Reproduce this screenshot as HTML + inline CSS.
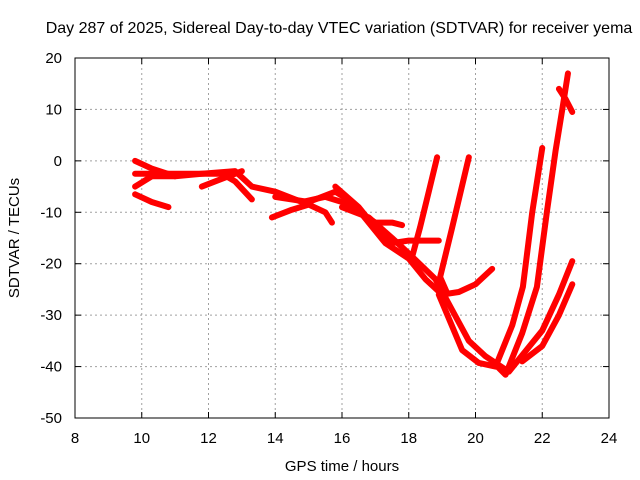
<!DOCTYPE html>
<html><head><meta charset="utf-8"><style>
body{margin:0;background:#fff;}
svg{display:block;font-family:"Liberation Sans",sans-serif;}
</style></head><body>
<svg id="chart" width="640" height="480">
<text x="339" y="33" font-size="16" text-anchor="middle">Day 287 of 2025, Sidereal Day-to-day VTEC variation (SDTVAR) for receiver yema</text>
<text x="342" y="471" font-size="15" text-anchor="middle">GPS time / hours</text>
<text transform="translate(19,238) rotate(-90)" font-size="15" text-anchor="middle">SDTVAR / TECUs</text>
<g id="grid"></g><g id="ticks"></g><g id="series"></g>
<rect x="75" y="58" width="534" height="360" fill="none" stroke="#000"/>
</svg>
<script>
const xTicks=[8,10,12,14,16,18,20,22,24];
const yTicks=[-50,-40,-30,-20,-10,0,10,20];
const s1=[[9.8,0],[10.3,-1.5],[11,-3],[11.8,-2.5],[12.8,-2],[13.3,-5],[14,-6],[14.8,-8],[15.5,-7],[16,-8],[16.5,-10],[17,-12],[17.5,-12],[17.8,-12.5]];
const s2=[[9.8,-2.5],[10.5,-2.5],[11.5,-2.5],[12.4,-2.5],[12.8,-4],[13.3,-7.5]];
const s3=[[9.8,-5],[10.3,-3],[11,-3]];
const s4=[[9.8,-6.5],[10.3,-8],[10.8,-9]];
const s5=[[11.8,-5],[12.4,-3.5],[13,-2]];
const s6=[[13.9,-11],[14.5,-9.5],[15,-8.5],[15.5,-10],[15.7,-12]];
const s7=[[14,-7],[15,-8],[15.8,-6],[16.3,-8],[16.8,-12],[17.3,-16],[18,-19],[18.5,-23],[19,-26],[19.5,-25.5],[20,-24],[20.5,-21]];
const s8=[[15.8,-5],[16.5,-9],[17,-13],[17.5,-16],[18,-15.5],[18.9,-15.5]];
const s9=[[16,-9],[16.8,-11],[17.5,-15],[18,-18],[18.8,-23],[19.3,-29],[19.8,-35],[20.3,-38],[21,-41],[21.5,-37],[22,-33],[22.5,-26],[22.9,-19.5]];
const s10=[[18.1,-18.7],[18.34,-12.9],[18.6,-6],[18.85,0.7]];
const s11=[[18.9,-26],[19.6,-36.8],[20.1,-39.3],[20.6,-40],[21.1,-32],[21.42,-24.5],[21.7,-10],[22,2.5]];
const s12=[[19.15,-25.7],[18.94,-22.6],[19.3,-13],[19.8,0.7]];
const s13=[[20.5,-39],[20.9,-41.6],[21.4,-33.5],[21.84,-24.5],[22.14,-9.9],[22.4,2],[22.6,10],[22.77,17]];
const s14=[[22.5,14],[22.7,12],[22.9,9.5]];
const s15=[[21.4,-39],[22,-36],[22.5,-30],[22.9,-24]];
const allSeries=[s1,s2,s3,s4,s5,s6,s7,s8,s9,s10,s11,s12,s13,s14,s15];
const X=h=>75+(h-8)*534/16, Y=v=>58+(20-v)*360/70;
const NS="http://www.w3.org/2000/svg";
const grid=document.getElementById('grid'),ticks=document.getElementById('ticks'),ser=document.getElementById('series');
function mk(t,a,p){const e=document.createElementNS(NS,t);for(const k in a)e.setAttribute(k,a[k]);p.appendChild(e);return e;}
xTicks.forEach(t=>{const x=X(t);
 if(t>8&&t<24){const g=mk('line',{x1:x,x2:x,y1:58,y2:418,stroke:'#a0a0a0','stroke-dasharray':'2,3'},grid);
 
 }
 mk('line',{x1:x,x2:x,y1:418,y2:412,stroke:'#000'},ticks);mk('line',{x1:x,x2:x,y1:58,y2:64,stroke:'#000'},ticks);
 const l=mk('text',{x:x,y:443,'font-size':15,'text-anchor':'middle'},ticks);l.textContent=t;
 
 });
yTicks.forEach(t=>{const y=Y(t);
 if(t>-50&&t<20){const g=mk('line',{x1:75,x2:609,y1:y,y2:y,stroke:'#a0a0a0','stroke-dasharray':'2,3'},grid);
 
 }
 mk('line',{x1:75,x2:81,y1:y,y2:y,stroke:'#000'},ticks);mk('line',{x1:609,x2:603,y1:y,y2:y,stroke:'#000'},ticks);
 const l=mk('text',{x:62,y:y+5,'font-size':15,'text-anchor':'end'},ticks);l.textContent=t;
 
 });
allSeries.forEach((s,i)=>{
 const p=mk('polyline',{points:s.map(d=>X(d[0])+','+Y(d[1])).join(' '),fill:'none',stroke:'#f00','stroke-width':6,'stroke-linejoin':'round','stroke-linecap':'round'},ser);
 
 
});
</script>
</body></html>
